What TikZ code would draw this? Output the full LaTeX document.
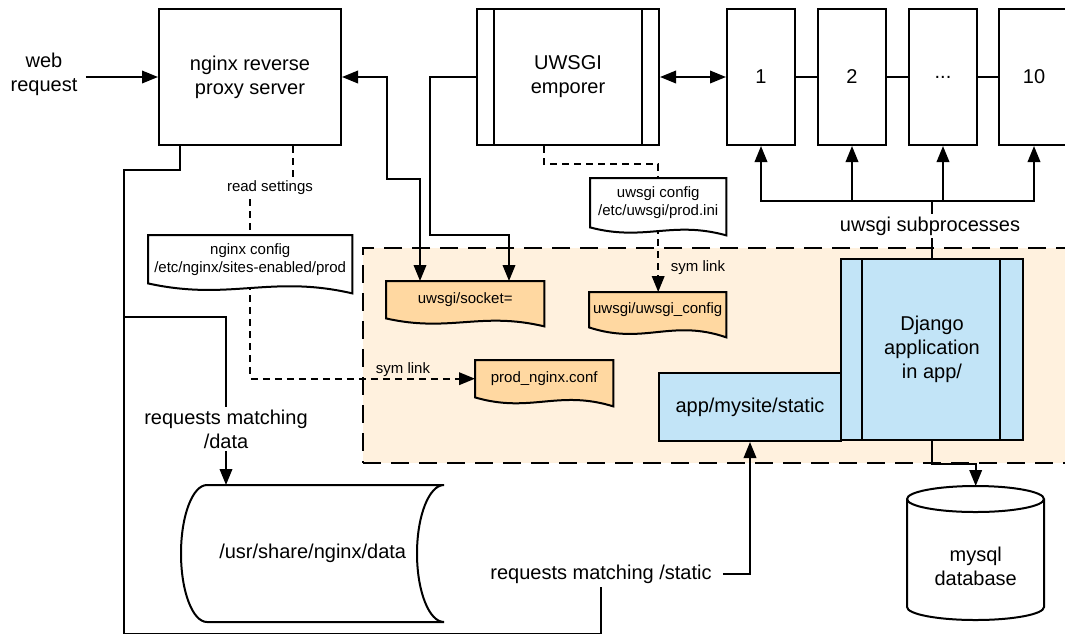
\documentclass[tikz,border=0pt]{standalone}
\usepackage{fontspec}
\setmainfont{Liberation Sans}
\usetikzlibrary{arrows.meta,calc}
\pgfdeclarelayer{bg}\pgfdeclarelayer{lines}\pgfdeclarelayer{docs}
\pgfsetlayers{bg,lines,docs,main}
\definecolor{bgorange}{RGB}{255,241,222}
\definecolor{docorange}{RGB}{255,216,161}
\definecolor{appblue}{RGB}{194,228,247}
\tikzset{
  big/.style={font=\fontsize{20}{24}\selectfont},
  small/.style={font=\fontsize{15}{18}\selectfont},
  box/.style={draw, line width=2pt, fill=white, inner sep=0pt, align=center, big, anchor=north west},
  docnode/.style={inner sep=0pt, align=center, small, anchor=north west},
  conn/.style={line width=2pt},
  dashconn/.style={line width=2pt, dash pattern=on 7pt off 5pt},
  tip/.style={-{Triangle[length=16pt,width=12.5pt]}},
  dtip/.style={{Triangle[length=16pt,width=12.5pt]}-{Triangle[length=16pt,width=12.5pt]}},
  lbl/.style={fill=white, inner sep=3pt, align=center},
}
\newcommand\docshape[3]{%
  \draw[line width=2pt, fill=#2] (#1.south west) -- (#1.north west) -- (#1.north east) -- ([yshift=-#3pt]#1.south east)
   .. controls ($(#1.south west)!0.6!(#1.south east)+(0,-0.9*#3)$) and ($(#1.south west)!0.4!(#1.south east)+(0,1.8*#3)$) .. (#1.south west) -- cycle;}
\begin{document}
\begin{tikzpicture}[x=1pt,y=-1pt]
\useasboundingbox (0,0) rectangle (1065,633);
% app directory region
\begin{pgfonlayer}{bg}
\node[anchor=north west, minimum width=710pt, minimum height=215pt, inner sep=0pt, fill=bgorange, draw, line width=2pt, dash pattern=on 18pt off 10pt] (appdir) at (362,247) {};
\end{pgfonlayer}
% main boxes
\node[box, minimum width=182pt, minimum height=136pt] (nginx) at (158,8) {nginx reverse\\proxy server};
\node[box, minimum width=182pt, minimum height=136pt] (emperor) at (476,8) {UWSGI\\emporer};
\draw[line width=2pt] ([xshift=18pt]emperor.north west) -- ([xshift=18pt]emperor.south west);
\draw[line width=2pt] ([xshift=-18pt]emperor.north east) -- ([xshift=-18pt]emperor.south east);
\node[box, minimum width=68pt, minimum height=136pt] (p1) at (726,8) {1};
\node[box, minimum width=68pt, minimum height=136pt] (p2) at (817,8) {2};
\node[box, minimum width=68pt, minimum height=136pt] (p3) at (908,8) {...};
\node[box, minimum width=70pt, minimum height=136pt] (p10) at (998,8) {10};
\node[big, align=center] (web) at (44,74) {web\\request};
% documents
\node[docnode, minimum width=204pt, minimum height=48pt] (nginxcfg) at (148,235) {nginx config\\/etc/nginx/sites-enabled/prod};
\node[docnode, minimum width=136pt, minimum height=49pt] (uwsgicfg) at (590,178) {uwsgi config\\/etc/uwsgi/prod.ini};
\node[docnode, minimum width=158pt, minimum height=37pt] (socket) at (386,281) {uwsgi/socket=};
\node[docnode, minimum width=137pt, minimum height=35pt] (uwsgiconf) at (589,292) {uwsgi/uwsgi\_config};
\node[docnode, minimum width=138pt, minimum height=37pt] (prodnginx) at (475,360) {prod\_nginx.conf};
% app
\node[box, fill=appblue, minimum width=182pt, minimum height=68pt] (static) at (658,372) {app/mysite/static};
\node[box, fill=appblue, minimum width=182pt, minimum height=181pt] (django) at (840,258) {Django\\application\\in app/};
\draw[line width=2pt] ([xshift=22pt]django.north west) -- ([xshift=22pt]django.south west);
\draw[line width=2pt] ([xshift=-24pt]django.north east) -- ([xshift=-24pt]django.south east);
% storage
\node[big, anchor=north west, inner sep=0pt, minimum width=263pt, minimum height=137pt] (data) at (181,485) {/usr/share/nginx/data};
\node[big, align=center, anchor=north west, inner sep=0pt, minimum width=137pt, minimum height=108pt] (mysql) at (907,512) {mysql\\database};
% labels
\node[lbl, small] (readlbl) at (270,188) {read settings};
\node[lbl, big] (sublbl) at (930,226) {uwsgi subprocesses};
\node[lbl, big] (datalbl) at (226,429) {requests matching\\/data};
\node[lbl, big] (staticlbl) at (601,574) {requests matching /static};
\node[small] (sym1) at (403,370) {sym link};
\node[small] (sym2) at (698,268) {sym link};
% shapes
\begin{pgfonlayer}{docs}
\docshape{nginxcfg}{white}{10}
\docshape{uwsgicfg}{white}{8}
\docshape{socket}{docorange}{8}
\docshape{uwsgiconf}{docorange}{10}
\docshape{prodnginx}{docorange}{9}
\draw[line width=2pt, fill=white] (207,485) -- (444,485) .. controls (429.1,485) and (417,515.7) .. (417,553.5) .. controls (417,591.3) and (429.1,622) .. (444,622) -- (207,622) .. controls (192.6,622) and (181,591.3) .. (181,553.5) .. controls (181,515.7) and (192.6,485) .. (207,485) -- cycle;
\draw[line width=2pt, fill=white] (907,499) -- (907,607) .. controls (907,614.2) and (937.7,620) .. (975.5,620) .. controls (1013.3,620) and (1044,614.2) .. (1044,607) -- (1044,499) .. controls (1044,491.8) and (1013.3,486) .. (975.5,486) .. controls (937.7,486) and (907,491.8) .. (907,499) -- cycle;
\draw[line width=2pt] (907,499) .. controls (907,506.2) and (937.7,512) .. (975.5,512) .. controls (1013.3,512) and (1044,506.2) .. (1044,499);
\end{pgfonlayer}
% connectors
\begin{pgfonlayer}{lines}
\draw[conn,tip] ([xshift=5pt]web.east |- nginx.west) -- (nginx.west);
\draw[conn,dtip] (nginx.east) -- ++(45,0) -- ++(0,102) -| ([xshift=34pt]socket.north west);
\draw[conn,tip] (emperor.west) -- ++(-46,0) -- ++(0,158) -| ([xshift=123pt]socket.north west);
\draw[conn,dtip] (emperor.east) -- (p1.west);
\draw[line width=1.5pt] (p1.east) -- (p2.west);
\draw[line width=1.5pt] (p2.east) -- (p3.west);
\draw[line width=1.5pt] (p3.east) -- (p10.west);
\draw[conn] (django.north) -- ++(0,-57) coordinate (hub);
\draw[conn,tip] (hub) -| (p1.south);
\draw[conn,tip] (hub) -| (p2.south);
\draw[conn,tip] (hub) -| (p3.south);
\draw[conn,tip] (hub) -| (p10.south);
\draw[dashconn] ([xshift=135pt]nginx.south west) -- ++(0,44) -| (nginxcfg.north);
\draw[dashconn,tip] (nginxcfg.south) |- (prodnginx.west);
\draw[dashconn] ([xshift=68pt]emperor.south west) -- ++(0,18) -| (uwsgicfg.north);
\draw[dashconn,tip] (uwsgicfg.south) -- (uwsgicfg.south |- uwsgiconf.north);
\draw[conn,tip] ([xshift=22pt]nginx.south west) -- ++(0,24) -| ++(-56,147) -| ([xshift=45pt]data.north west);
\draw[conn] ([xshift=22pt]nginx.south west) -- ++(0,24) -| ++(-56,464) -| (staticlbl.south);
\draw[conn,tip] ([xshift=8pt]staticlbl.east) -| (static.south);
\draw[conn,tip] (django.south) -- ++(0,23) -| ([yshift=26pt]mysql.north);
\end{pgfonlayer}
\end{tikzpicture}
\end{document}
